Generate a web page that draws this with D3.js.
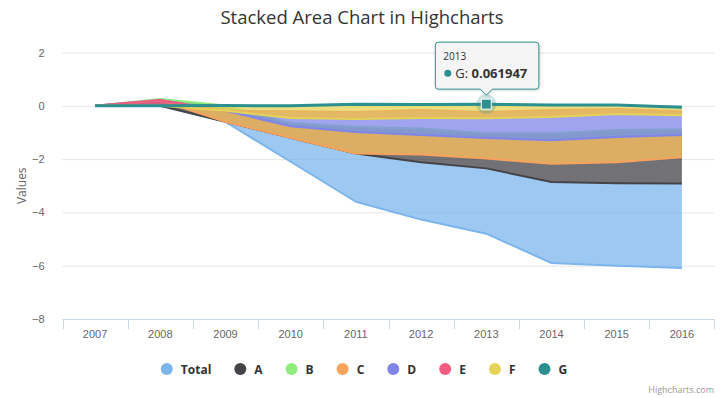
<!DOCTYPE html>
<html>
<head>
<meta charset="utf-8">
<script src="https://cdn.jsdelivr.net/npm/d3@7"></script>
<style>
body { margin: 0; background: #fff; }
svg { display: block; font-family: "Open Sans", "DejaVu Sans", sans-serif; }
</style>
</head>
<body>
<svg width="724" height="398"></svg>
<script>
// data
var years = [2007, 2008, 2009, 2010, 2011, 2012, 2013, 2014, 2015, 2016];
var total = [0, 0, 0, -0.9, -1.81, -2.15, -2.45, -3.04, -3.09, -3.17];
var seriesA = [0, -0.26, -0.61, -0.55, -1.0, -1.27, -1.32, -1.83, -2.0, -2.04];
var seriesB = [0, 0.06, 0.61, 0.55, 1.0, 0.98, 0.95, 1.14, 1.21, 1.05];
var seriesC = [0, -0.02, -0.41, -0.43, -0.81, -0.73, -0.77, -0.88, -0.95, -0.83];
var seriesD = [0, 0, 0, -0.57, -0.75, -0.94, -0.98, -1.13, -1.05, -0.9];
var seriesE = [0, 0.22, 0, 0.26, 0.27, 0.3, 0.24, 0.26, 0.19, 0.15];
var seriesF = [0, 0, -0.2, -0.46, -0.56, -0.51, -0.53, -0.45, -0.34, -0.3];
var seriesG = [0, 0, 0.01, 0, 0.06, 0.05, 0.061947, 0.03, 0.03, -0.05];
var yTicks = [2, 0, -2, -4, -6, -8];

var names = ["Total", "A", "B", "C", "D", "E", "F", "G"];
var values = [total, seriesA, seriesB, seriesC, seriesD, seriesE, seriesF, seriesG];
var palette = ["#7cb5ec", "#434348", "#90ed7d", "#f7a35c", "#8085e9", "#f15c80", "#e4d354", "#2b908f"];
var color = d3.scaleOrdinal(names, palette);

var svg = d3.select("svg"),
	width = +svg.attr("width"),
	height = +svg.attr("height");

var plotLeft = 62.5, plotRight = 714.5, plotTop = 52.5, plotBottom = 319;

// table for d3.stack
var rows = years.map(function(yr, i) {
	var r = {year: yr};
	names.forEach(function(n, k) { r[n] = values[k][i]; });
	return r;
});

//one running sum whatever the sign, G nearest the baseline, Total last
var stacked = d3.stack()
	.keys(names.slice().reverse())
	.offset(d3.stackOffsetNone)(rows);
var byKey = {};
stacked.forEach(function(s) { byKey[s.key] = s; });

var x = d3.scaleBand().domain(years).range([plotLeft, plotRight]);
var y = d3.scaleLinear().domain([-8, 2]).range([plotBottom, plotTop]);
function cx(yr) { return x(yr) + x.bandwidth() / 2; }

// title
svg.append("text")
	.attr("x", width / 2).attr("y", 24)
	.attr("text-anchor", "middle")
	.style("font-size", "18.5px").style("fill", "#333333")
	.text("Stacked Area Chart in Highcharts");

// grid
svg.append("g")
	.attr("transform", "translate(" + plotLeft + ",0)")
	.call(d3.axisLeft(y).tickValues(yTicks).tickSize(-(plotRight - plotLeft)).tickFormat(""))
	.call(function(g) { g.select(".domain").remove(); })
	.selectAll("line").attr("stroke", "#e6e6e6");

// y labels
svg.append("g")
	.attr("transform", "translate(" + (plotLeft - 15) + ",0)")
	.call(d3.axisLeft(y).tickValues(yTicks).tickSize(0).tickFormat(d3.format("d")))
	.call(function(g) { g.select(".domain").remove(); })
	.selectAll("text")
	.style("font-size", "11px").style("fill", "#666666").style("font-family", "inherit");

svg.append("text")
	.attr("transform", "translate(26," + ((plotTop + plotBottom) / 2) + ") rotate(-90)")
	.attr("text-anchor", "middle")
	.style("font-size", "12px").style("fill", "#666666")
	.text("Values");

// x axis
svg.append("line")
	.attr("x1", plotLeft).attr("x2", plotRight)
	.attr("y1", plotBottom + 0.5).attr("y2", plotBottom + 0.5)
	.attr("stroke", "#ccd6eb");
svg.append("g").selectAll("line")
	.data(years.concat(["end"]))
	.enter().append("line")
		.attr("x1", function(d) { return d === "end" ? plotRight : Math.round(x(d)) + 0.5; })
		.attr("x2", function(d) { return d === "end" ? plotRight : Math.round(x(d)) + 0.5; })
		.attr("y1", plotBottom).attr("y2", plotBottom + 10)
		.attr("stroke", "#ccd6eb");
svg.append("g")
	.attr("transform", "translate(0," + (plotBottom + 8) + ")")
	.call(d3.axisBottom(x).tickSize(0).tickFormat(d3.format("d")))
	.call(function(g) { g.select(".domain").remove(); })
	.selectAll("text")
	.style("font-size", "11px").style("fill", "#666666").style("font-family", "inherit");

// series
svg.append("clipPath").attr("id", "plot")
	.append("rect").attr("x", plotLeft).attr("y", plotTop - 10)
	.attr("width", plotRight - plotLeft).attr("height", plotBottom - plotTop + 10);

var area = d3.area()
	.x(function(d) { return cx(d.data.year); })
	.y0(function(d) { return y(d[0]); })
	.y1(function(d) { return y(d[1]); });
var line = d3.line()
	.x(function(d) { return cx(d.data.year); })
	.y(function(d) { return y(d[1]); });

//Total drawn first, G on top, the bands overlap where signs mix
var plot = svg.append("g").attr("clip-path", "url(#plot)");
names.forEach(function(n) {
	var g = plot.append("g");
	g.append("path")
		.attr("d", area(byKey[n]))
		.attr("fill", color(n))
		.attr("fill-opacity", 0.75);
	g.append("path")
		.attr("d", line(byKey[n]))
		.attr("fill", "none")
		.attr("stroke", color(n))
		.attr("stroke-width", n === "G" ? 3 : 2)
		.attr("stroke-linejoin", "round");
});

// hovered point, G in 2013
var hi = years.indexOf(2013);
var px = cx(2013), py = y(byKey["G"][hi][1]);
svg.append("circle").attr("cx", px).attr("cy", py).attr("r", 10)
	.attr("fill", color("G")).attr("fill-opacity", 0.25);
svg.append("rect").attr("x", px - 5).attr("y", py - 5).attr("width", 10).attr("height", 10)
	.attr("fill", color("G")).attr("stroke", "#fff").attr("stroke-width", 1);

// tooltip
var tip = svg.append("g");
var tipBox = tip.append("path");
var tipText = tip.append("g");
tipText.append("text").attr("x", 0).attr("y", 0)
	.style("font-size", "10px").style("fill", "#333333")
	.text(years[hi]);
tipText.append("circle").attr("cx", 4.5).attr("cy", 13).attr("r", 3.5).attr("fill", color("G"));
var t2 = tipText.append("text").attr("x", 12).attr("y", 17.5)
	.style("font-size", "13px").style("fill", "#333333");
t2.append("tspan").text("G: ");
t2.append("tspan").style("font-weight", "bold").text(String(seriesG[hi]));
var tw = tipText.node().getBBox().width + 19;
var bx = px - 51, by = py - 62, bh = 47, br = 3;
tipBox.attr("d",
	"M" + (bx + br) + "," + by + "H" + (bx + tw - br) + "Q" + (bx + tw) + "," + by + " " + (bx + tw) + "," + (by + br) +
	"V" + (by + bh - br) + "Q" + (bx + tw) + "," + (by + bh) + " " + (bx + tw - br) + "," + (by + bh) +
	"H" + (px + 6) + "L" + px + "," + (by + bh + 6) + "L" + (px - 6) + "," + (by + bh) +
	"H" + (bx + br) + "Q" + bx + "," + (by + bh) + " " + bx + "," + (by + bh - br) +
	"V" + (by + br) + "Q" + bx + "," + by + " " + (bx + br) + "," + by + "Z")
	.attr("fill", "rgba(247,247,247,0.9)")
	.attr("stroke", color("G")).attr("stroke-width", 1)
	.style("filter", "drop-shadow(1px 1px 1px rgba(0,0,0,0.15))");
tipText.attr("transform", "translate(" + (bx + 8) + "," + (by + 18) + ")");

// legend
var legend = svg.append("g");
var lx = 0;
names.forEach(function(n) {
	var item = legend.append("g").attr("transform", "translate(" + lx + ",0)");
	item.append("circle").attr("cx", 6).attr("cy", 0).attr("r", 6).attr("fill", color(n));
	var t = item.append("text").attr("x", 20).attr("y", 4.5)
		.style("font-size", "12px").style("font-weight", "bold").style("fill", "#333333")
		.text(n);
	lx += 20 + t.node().getComputedTextLength() + 23;
});
lx -= 23;
legend.attr("transform", "translate(" + (width / 2 - lx / 2 + 2) + ",369)");

// credits
svg.append("text")
	.attr("x", 714).attr("y", 393)
	.attr("text-anchor", "end")
	.style("font-size", "9px").style("fill", "#999999")
	.text("Highcharts.com");
</script>
</body>
</html>
